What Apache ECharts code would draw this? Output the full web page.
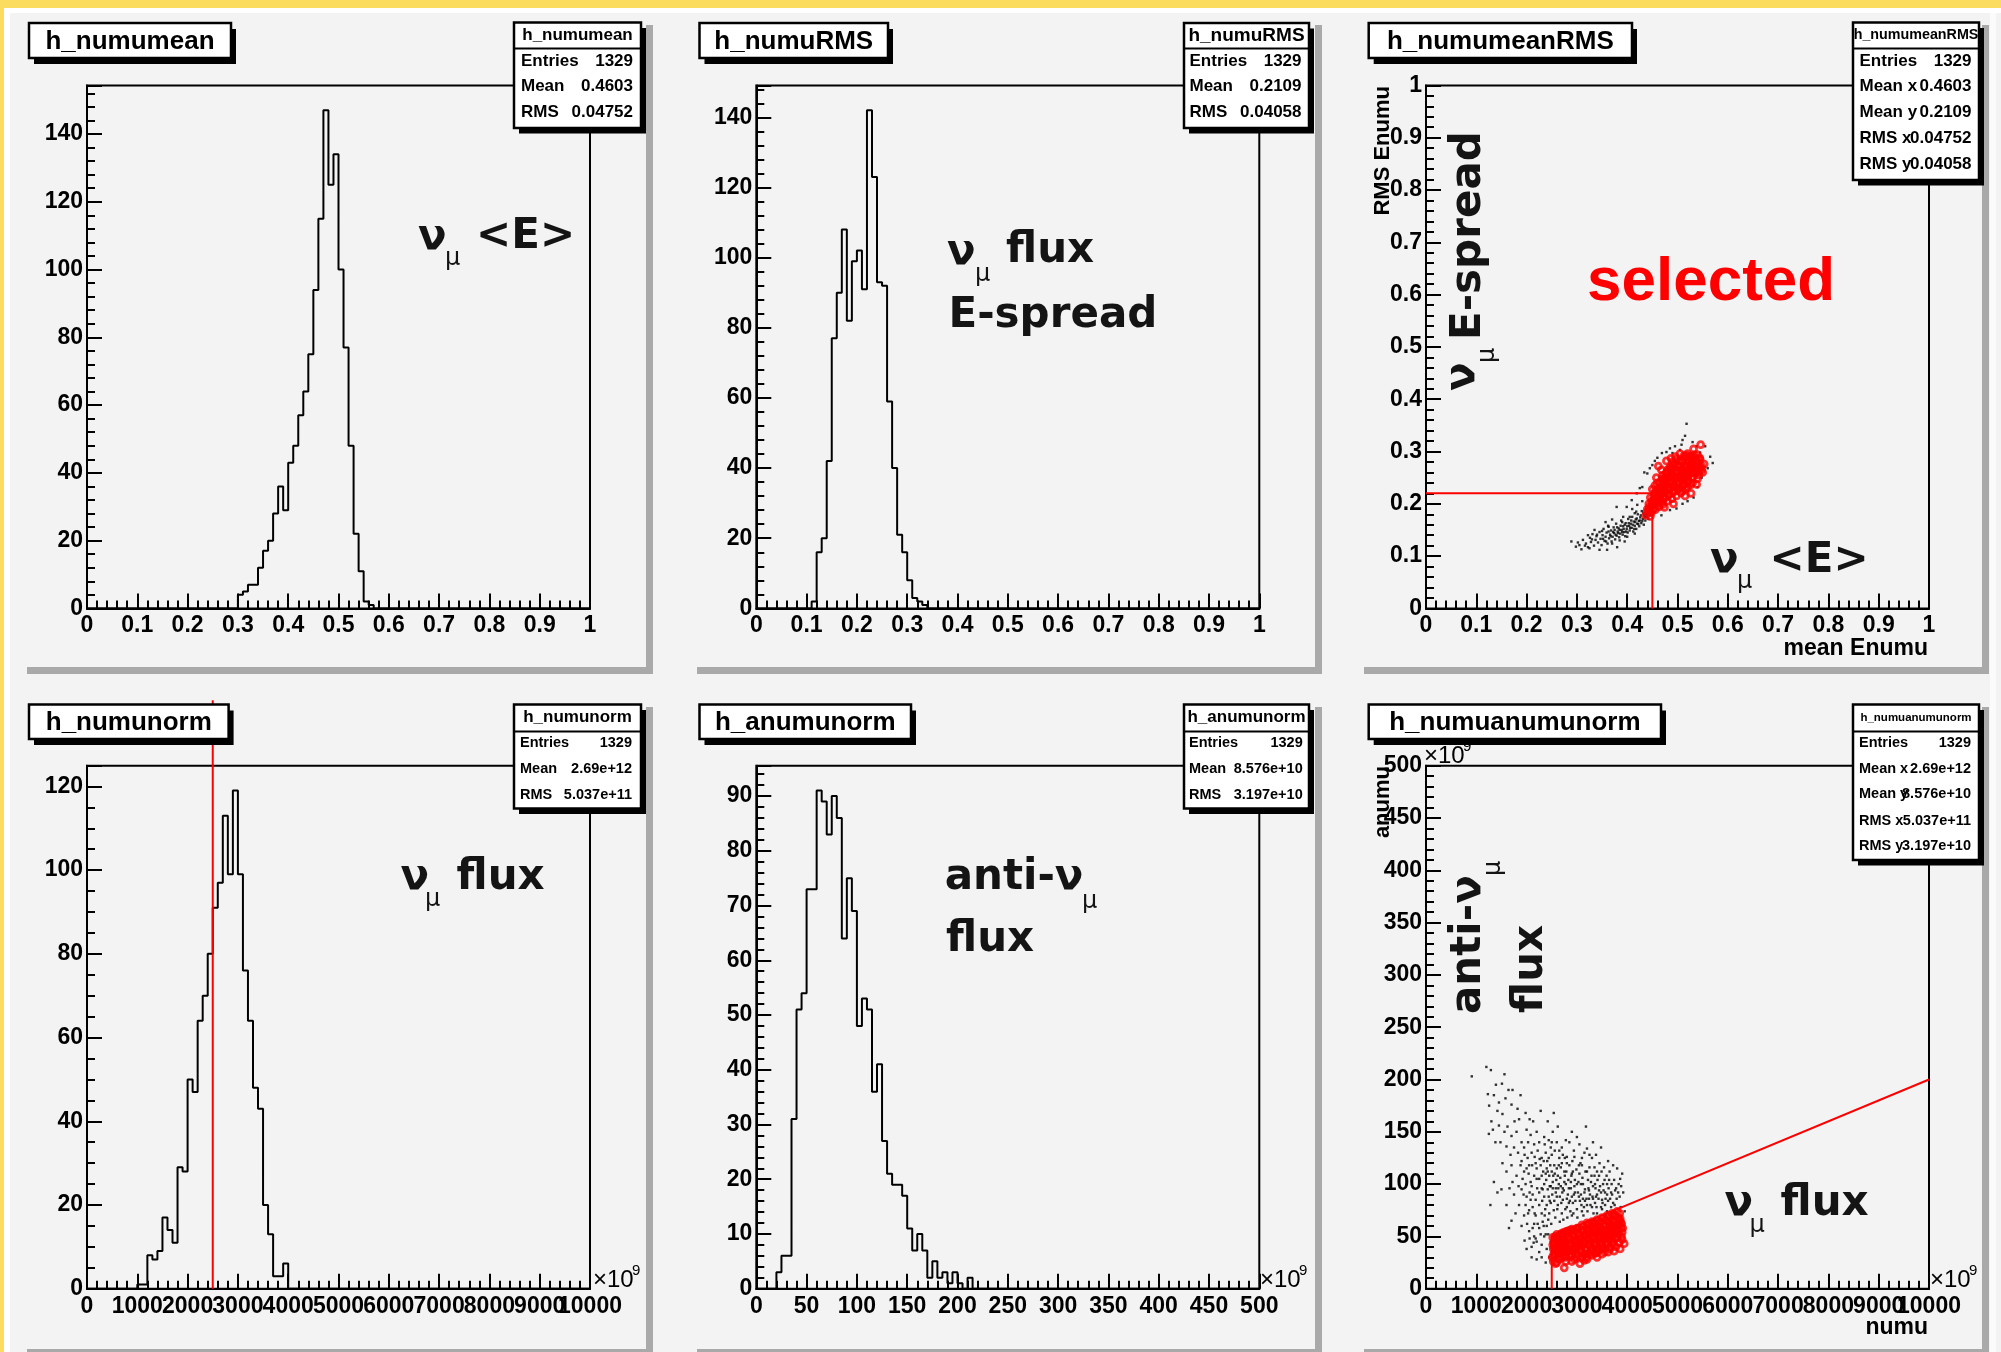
<!DOCTYPE html>
<html><head><meta charset="utf-8">
<script src="https://cdn.jsdelivr.net/npm/echarts@6/dist/echarts.min.js"></script>
<style>html,body{margin:0;padding:0;background:#f3f3f3;overflow:hidden}#c{width:2001px;height:1352px}</style>
</head><body><div id="c"></div>
<script>
// ================= DATA =================
// h_numumean : 100 bins on [0,1]
const numumeanStart = 30;
const numumeanCounts = [4,5,7,7,12,17,20,28,36,29,43,48,57,64,75,94,115,147,125,134,100,77,48,22,11,2,1];
// h_numuRMS : 100 bins on [0,1]
const numuRMSStart = 11;
const numuRMSCounts = [2,16,20,42,77,90,108,82,99,102,91,142,123,93,92,59,40,21,16,8,3,2,1];
// h_numunorm : 100 bins on [0,10000] (x1e9)
const numunormStart = 10;
const numunormCounts = [1,1,8,7,9,17,14,11,29,28,50,47,64,70,80,91,97,113,99,119,99,76,64,48,43,20,13,3,3,6];
// h_anumunorm : 100 bins on [0,500] (x1e9)
const anumunormStart = 4;
const anumunormCounts = [3,6,6,31,51,54,73,73,91,89,83,90,86,64,75,69,48,53,51,36,41,27,21,19,19,17,11,7,10,7,2,5,2,3,1,3,1,0,2];

// axis ranges [min, max, major interval]
const xRange1 = [0, 1, 0.1], yRange1 = [0, 154.35, 20];
const xRange2 = [0, 1, 0.1], yRange2 = [0, 149.1, 20];
const xRange3 = [0, 1, 0.1], yRange3 = [0, 1, 0.1];
const xRange4 = [0, 10000, 1000], yRange4 = [0, 124.95, 20];
const xRange5 = [0, 500, 50], yRange5 = [0, 95.55, 10];
const xRange6 = [0, 10000, 1000], yRange6 = [0, 500, 50];

// cut lines
const cutMeanRMS = [[0,0.22],[0.45,0.22],[0.45,0]];
const cutNumu = [[2500,0],[2500,140.6]];
const cutNumuAnumu = [[2500,0],[2500,50],[10000,200]];

// scatter: mean Enumu vs RMS Enumu
const meanRMSAll = [[0.289,0.128],[0.298,0.118],[0.305,0.121],[0.309,0.113],[0.312,0.131],[0.318,0.124],[0.322,0.117],[0.326,0.135],[0.328,0.127],[0.331,0.142],[0.334,0.12],[0.337,0.131],[0.339,0.138],[0.342,0.126],[0.345,0.146],[0.347,0.133],[0.349,0.121],[0.351,0.14],[0.353,0.152],[0.355,0.129],[0.357,0.137],[0.359,0.145],[0.361,0.124],[0.362,0.158],[0.364,0.134],[0.366,0.141],[0.368,0.149],[0.369,0.128],[0.371,0.137],[0.373,0.155],[0.374,0.144],[0.376,0.132],[0.378,0.162],[0.379,0.139],[0.381,0.147],[0.383,0.153],[0.384,0.136],[0.386,0.143],[0.388,0.168],[0.389,0.15],[0.391,0.141],[0.392,0.157],[0.394,0.146],[0.396,0.138],[0.397,0.163],[0.399,0.152],[0.401,0.145],[0.402,0.171],[0.404,0.158],[0.405,0.149],[0.407,0.162],[0.409,0.154],[0.41,0.175],[0.412,0.147],[0.413,0.166],[0.415,0.158],[0.417,0.17],[0.418,0.152],[0.42,0.162],[0.421,0.18],[0.423,0.167],[0.424,0.157],[0.426,0.174],[0.428,0.163],[0.429,0.186],[0.431,0.171],[0.433,0.16],[0.434,0.178],[0.436,0.168],[0.437,0.19],[0.439,0.175],[0.441,0.182],[0.442,0.171],[0.444,0.188],[0.446,0.178],[0.447,0.196],[0.449,0.184],[0.38,0.117],[0.395,0.128],[0.36,0.112],[0.345,0.112],[0.37,0.17],[0.41,0.19],[0.42,0.198],[0.43,0.205],[0.379,0.194],[0.399,0.194],[0.409,0.207],[0.419,0.22],[0.425,0.23],[0.434,0.26],[0.43,0.232],[0.44,0.258],[0.445,0.268],[0.45,0.274],[0.455,0.282],[0.46,0.288],[0.469,0.297],[0.478,0.299],[0.485,0.306],[0.49,0.297],[0.495,0.31],[0.508,0.313],[0.505,0.303],[0.51,0.322],[0.515,0.33],[0.518,0.353],[0.53,0.318],[0.538,0.31],[0.545,0.298],[0.555,0.31],[0.565,0.29],[0.57,0.278],[0.56,0.268],[0.548,0.25],[0.54,0.232],[0.532,0.212],[0.52,0.205],[0.51,0.2],[0.498,0.191],[0.485,0.188],[0.468,0.178],[0.455,0.185],[0.357,0.165],[0.335,0.15],[0.322,0.14],[0.392,0.175],[0.415,0.182],
  [0.352,0.133],[0.358,0.128],[0.363,0.147],[0.367,0.138],[0.372,0.146],[0.375,0.15],[0.377,0.141],[0.38,0.155],[0.382,0.144],[0.385,0.15],[0.387,0.158],[0.39,0.146],[0.393,0.152],[0.395,0.16],[0.398,0.147],[0.4,0.157],[0.403,0.163],[0.406,0.154],[0.408,0.168],[0.411,0.16],[0.414,0.152],[0.416,0.165],[0.419,0.172],[0.422,0.161],[0.425,0.168],[0.427,0.178],[0.43,0.167],[0.432,0.182],[0.435,0.174],[0.438,0.18],[0.44,0.176],[0.443,0.183],[0.37,0.124],[0.385,0.13],[0.4,0.137],[0.415,0.143],[0.34,0.141],[0.33,0.132],[0.316,0.12],[0.302,0.126],[0.325,0.115],[0.39,0.165],[0.405,0.175],[0.418,0.185],[0.363,0.156],[0.35,0.148]];
const meanRMSSelected = [[0.437,0.178],[0.44,0.19],[0.443,0.2],[0.446,0.212],[0.448,0.183],[0.45,0.196],[0.452,0.207],[0.454,0.22],[0.456,0.189],[0.458,0.201],[0.46,0.213],[0.462,0.226],[0.463,0.194],[0.465,0.24],[0.466,0.206],[0.468,0.219],[0.47,0.232],[0.471,0.199],[0.473,0.211],[0.474,0.246],[0.476,0.224],[0.477,0.258],[0.479,0.237],[0.48,0.205],[0.482,0.216],[0.483,0.25],[0.485,0.229],[0.486,0.268],[0.488,0.242],[0.489,0.21],[0.491,0.222],[0.492,0.255],[0.494,0.234],[0.495,0.275],[0.497,0.247],[0.498,0.215],[0.5,0.228],[0.501,0.26],[0.503,0.24],[0.504,0.282],[0.506,0.252],[0.507,0.221],[0.509,0.234],[0.51,0.266],[0.512,0.245],[0.513,0.287],[0.515,0.258],[0.516,0.228],[0.518,0.272],[0.52,0.241],[0.521,0.252],[0.523,0.29],[0.524,0.263],[0.526,0.236],[0.528,0.277],[0.529,0.25],[0.531,0.268],[0.533,0.293],[0.535,0.258],[0.537,0.282],[0.538,0.237],[0.54,0.27],[0.542,0.255],[0.544,0.288],[0.546,0.313],[0.548,0.272],[0.553,0.276],[0.55,0.26],[0.478,0.282],[0.468,0.265],[0.458,0.25],[0.455,0.235],[0.492,0.2],[0.474,0.193],[0.446,0.176],[0.52,0.296],[0.505,0.296],[0.532,0.305],[0.462,0.272],[0.45,0.228],[0.527,0.22],[0.515,0.215],[0.496,0.29],[0.487,0.287],
  [0.44,0.184],[0.444,0.194],[0.449,0.205],[0.453,0.215],[0.457,0.226],[0.461,0.204],[0.464,0.217],[0.467,0.228],[0.469,0.247],[0.472,0.222],[0.475,0.235],[0.478,0.248],[0.481,0.228],[0.484,0.242],[0.487,0.255],[0.49,0.234],[0.493,0.247],[0.496,0.26],[0.499,0.24],[0.502,0.252],[0.505,0.265],[0.508,0.246],[0.511,0.258],[0.514,0.271],[0.517,0.251],[0.519,0.263],[0.522,0.276],[0.525,0.257],[0.527,0.268],[0.53,0.281],[0.534,0.272],[0.537,0.262],[0.541,0.282],[0.545,0.27],[0.476,0.212],[0.484,0.218],[0.495,0.224],[0.505,0.23],[0.513,0.237],[0.522,0.244],[0.53,0.25],[0.51,0.282],[0.5,0.273],[0.49,0.27],[0.48,0.265],[0.47,0.254],[0.46,0.24],[0.452,0.19],[0.459,0.196],[0.47,0.205],[0.518,0.292],[0.528,0.29],[0.539,0.294],
  [0.445,0.188],[0.45,0.2],[0.455,0.21],[0.46,0.22],[0.465,0.23],[0.47,0.24],[0.475,0.25],[0.48,0.26],[0.485,0.27],[0.49,0.28],[0.458,0.205],[0.463,0.215],[0.468,0.225],[0.473,0.235],[0.478,0.245],[0.483,0.255],[0.488,0.265],[0.493,0.275],[0.498,0.285],[0.478,0.222],[0.483,0.232],[0.488,0.242],[0.493,0.252],[0.498,0.262],[0.503,0.272],[0.508,0.282],[0.513,0.292],[0.497,0.232],[0.502,0.242],[0.507,0.252],[0.512,0.262],[0.517,0.272],[0.522,0.282],[0.515,0.248],[0.52,0.258],[0.525,0.268],[0.53,0.278],[0.535,0.288],[0.53,0.26],[0.535,0.27],[0.54,0.278],[0.545,0.285],[0.543,0.262],[0.548,0.265],[0.51,0.225],[0.52,0.232],[0.53,0.24],[0.54,0.248]];

// scatter: numu vs anumu (x1e9)
const numuAnumuAll = [[910,203],[1200,212],[1290,209],[1390,195],[1510,196],[1230,186],[1350,185],[1255,175],[1580,182],[1640,190],[1700,176],[1820,172],[1760,160],[1520,167],[1420,170],[1300,160],[1250,148],[1330,152],[1450,156],[1560,150],[1620,155],[1700,146],[1800,150],[1850,162],[1900,140],[1380,140],[1480,140],[1600,136],[1680,128],[1750,135],[1830,130],[1950,135],[2000,152],[2080,147],[2150,138],[1520,120],[1600,112],[1700,118],[1420,92],[1500,95],[1350,102],[1800,108],[1880,118],[1950,112],[2020,125],[2100,130],[2180,120],[2250,140],[2350,145],[1280,80],[1600,80],[1750,90],[1900,95],[2300,125],[2400,115],[2500,128],[2600,140],[2700,120],[3000,145],[3180,155],[3800,115],[3900,110],[3600,100],[3400,112],[3300,125],[3100,118],[2900,110],[2800,126],[2200,105],[2100,98],[2000,88],[2050,75],[1950,70],[1900,60],[2150,62],[2250,58],[2300,72],[2350,88],[2420,95],[2480,82],[2520,102],[2580,92],[2620,108],[2680,98],[2720,85],[2780,100],[2820,90],[2880,96],[2920,82],[2960,104],[3020,92],[3080,100],[3120,86],[3160,95],[3220,104],[3260,90],[3320,98],[3380,88],[3440,94],[3500,85],[3560,92],[3620,84],[3700,90],[3750,80],[3850,88],[2450,72],[2400,60],[2350,50],[2300,42],[2250,35],[2200,45],[2150,50],[2100,40],[2400,38],[2450,30],[2380,25],[2200,28],[2050,55],[2600,115],[2650,125],[2750,112],[2850,118],[2950,126],[3050,110],[3150,130],[3250,116],[3350,108],[3450,120],[3550,104],[2550,118],[2500,112],[2450,108],[2350,100],[2300,108],[2250,92],[2180,85],[2120,78],[2250,80],[2320,64],[2540,75],[2620,80],[2700,72],[2800,78],[2900,70],[3000,76],[3100,74],[3200,80],[3300,78],[3400,72],[3500,76],[3600,74],[3700,72],[2700,135],[2850,140],[3050,138],[2480,135],[2380,130],[2580,96],[2660,88],[2740,94],[2860,84],[2940,90],[3060,84],[3140,78],[3240,86],[3360,82],[3480,78],[3580,70],[3680,78],[2200,115],[2150,108],[2080,102],[2040,110],[1980,100],[1840,98],[1720,102],[1660,96],
  [2010,62],[2060,92],[2110,118],[2160,72],[2210,96],[2260,124],[2310,84],[2330,112],[2370,76],[2390,104],[2410,122],[2430,66],[2440,88],[2460,98],[2470,118],[2490,62],[2510,90],[2530,108],[2550,84],[2560,132],[2570,68],[2590,104],[2610,76],[2630,96],[2640,118],[2660,64],[2670,106],[2690,82],[2710,92],[2720,128],[2730,66],[2750,102],[2770,76],[2790,112],[2800,86],[2810,68],[2830,104],[2840,96],[2870,74],[2890,108],[2900,88],[2910,122],[2930,72],[2950,98],[2970,84],[2990,114],[3010,68],[3030,102],[3040,88],[3070,120],[3090,80],[3110,106],[3130,70],[3150,92],[3170,112],[3190,86],[3210,74],[3230,96],[3250,128],[3270,80],[3290,108],[3310,88],[3330,72],[3350,116],[3370,96],[3390,78],[3410,104],[3430,86],[3460,98],[3490,112],[3510,82],[3530,94],[3570,86],[3590,108],[3630,96],[3660,86],[3690,100],[3720,82],[3760,94],[3790,86],[3830,100],[3870,78],[3920,92],[3950,74],[2360,138],[2440,142],[2520,150],[2620,155],[2780,142],[2900,150],[3320,140],[3480,135],[3620,122],[1850,80],[1780,72],[1700,65],[1650,58],[1900,122],[1960,128],[2030,140],[2130,160],[1980,168],[1880,185],[1560,205],[1450,178],[1720,190],[2280,170],[2420,160],[2540,168],[2200,150],[2060,162],[2340,60],[2380,52],[2180,70],[2120,58],[2250,105],[2050,118],[2480,45],[2430,52],[1960,46],[2000,38],[2100,30],[2300,30],
  [2420,112],[2460,84],[2520,96],[2560,110],[2600,88],[2640,100],[2680,116],[2720,96],[2760,108],[2800,120],[2840,82],[2880,102],[2920,112],[2960,92],[3000,100],[3040,118],[3080,90],[3120,100],[3160,84],[3200,112],[3240,94],[3280,102],[3320,86],[3360,100],[3400,90],[3440,108],[3480,92],[3520,100],[3560,80],[3600,90],[3640,104],[3680,92],[3740,104],[3780,96],[3820,92],[3880,98],[2300,96],[2280,118],[2220,132],[2160,126],[2120,90],[2080,85],[2030,72],[1980,80],[1940,90],[1920,105],[2000,115],[2400,80],[2360,70],[2320,95],[2280,52],[2220,62],[2180,48],[2140,44],[2060,48],[2480,98],[2440,125],[2380,110],[2340,122],[2500,140],[2650,132],[2760,125],[2940,132],[3100,125],[3200,134],[3380,128],[3540,116],[3650,112],[3720,118],[3860,105]];
const numuAnumuSelected = [[2520,49],[2540,44],[2530,38],[2560,32],[2580,47],[2600,40],[2620,35],[2640,50],[2660,44],[2680,38],[2700,30],[2720,52],[2740,46],[2760,41],[2780,35],[2800,55],[2820,49],[2840,43],[2860,37],[2880,31],[2900,57],[2920,51],[2940,45],[2960,40],[2980,34],[3000,58],[3020,53],[3040,47],[3060,41],[3080,36],[3100,61],[3120,55],[3140,50],[3160,44],[3180,38],[3200,63],[3220,57],[3240,52],[3260,46],[3280,40],[3300,64],[3320,59],[3340,53],[3360,48],[3380,42],[3400,66],[3420,60],[3440,55],[3460,49],[3480,44],[3500,68],[3520,62],[3540,56],[3560,51],[3580,45],[3600,70],[3620,64],[3640,58],[3660,52],[3680,46],[3700,72],[3720,66],[3740,60],[3760,54],[3780,48],[3800,74],[3820,68],[3840,62],[3860,67],[3880,58],[3900,54],[3887,50],[3940,43],[3656,40],[3358,34],[3225,34],[3146,27],[3060,24],[2781,26],[2748,20],[2576,24],[2530,26],[3500,38],[3420,36],[3300,32],[3100,30],[2950,28],[2650,28],[3600,42],[3720,44],[3760,70],[3680,60],[2600,52],[2700,53],
  [2510,30],[2550,40],[2570,50],[2590,36],[2610,46],[2630,30],[2650,40],[2670,52],[2690,34],[2710,44],[2730,38],[2750,54],[2770,30],[2790,46],[2810,40],[2830,55],[2850,32],[2870,48],[2890,42],[2910,36],[2930,56],[2950,50],[2970,46],[2990,30],[3010,40],[3030,58],[3050,50],[3070,44],[3090,56],[3110,35],[3130,45],[3150,58],[3170,52],[3190,30],[3210,48],[3230,42],[3250,60],[3270,54],[3290,36],[3310,50],[3330,44],[3350,62],[3370,56],[3390,38],[3410,52],[3430,46],[3450,64],[3470,58],[3490,40],[3510,54],[3530,48],[3550,66],[3570,60],[3590,50],[3610,56],[3630,48],[3650,68],[3670,62],[3690,54],[3710,58],[3730,50],[3750,70],[3770,64],[3790,56],[3810,60],[3830,52],[3850,72],[3870,64],[3890,62],[3910,58],[3200,28],[3400,30],[3550,35],[2900,26],[2600,25],
  [2540,33],[2660,33],[2780,32],[2900,33],[3020,32],[3140,33],[3260,33],[3380,34],[3500,33],[3620,35],[3740,36],[3860,38],
  [2520,42],[2640,42],[2760,43],[2880,42],[3000,43],[3120,42],[3240,43],[3360,42],[3480,42],[3600,43],[3720,42],[3840,44],
  [2600,48],[2720,48],[2840,48],[2960,48],[3080,48],[3200,48],[3320,48],[3440,48],[3560,48],[3680,49],[3800,49],[3900,47],
  [2860,56],[2980,56],[3100,56],[3220,56],[3340,56],[3460,56],[3580,56],[3700,56],[3820,57],
  [3240,62],[3360,63],[3480,64],[3600,65],[3720,64],[3840,65],
  [2580,37],[2700,37],[2820,37],[2940,37],[3060,37],[3180,37],[3300,37],[3420,38],[3540,38],[3660,38],[3780,40]];

// titles and statistics
const titles = ['h_numumean','h_numuRMS','h_numumeanRMS','h_numunorm','h_anumunorm','h_numuanumunorm'];
const stats1 = [['Entries','1329'],['Mean','0.4603'],['RMS','0.04752']];
const stats2 = [['Entries','1329'],['Mean','0.2109'],['RMS','0.04058']];
const stats3 = [['Entries','1329'],['Mean x','0.4603'],['Mean y','0.2109'],['RMS x','0.04752'],['RMS y','0.04058']];
const stats4 = [['Entries','1329'],['Mean','2.69e+12'],['RMS','5.037e+11']];
const stats5 = [['Entries','1329'],['Mean','8.576e+10'],['RMS','3.197e+10']];
const stats6 = [['Entries','1329'],['Mean x','2.69e+12'],['Mean y','8.576e+10'],['RMS x','5.037e+11'],['RMS y','3.197e+10']];

// ================= BUILD =================
function histLine(start, counts, nbins, xmin, xmax) {
  const w = (xmax - xmin) / nbins;
  const full = new Array(nbins).fill(0);
  counts.forEach((c, i) => { full[start + i] = c; });
  const pts = full.map((c, i) => [xmin + i * w, c]);
  pts.push([xmax, full[nbins - 1]]);
  return pts;
}

const grids = [
  {left: 87, top: 85.4}, {left: 756.3, top: 85.4}, {left: 1426, top: 85.4},
  {left: 87, top: 765.7}, {left: 756.3, top: 765.7}, {left: 1426, top: 765.7}
].map(g => Object.assign(g, {width: 503, height: 523, show: true, borderColor: '#000', borderWidth: 2,
  backgroundColor: 'transparent', containLabel: false, outerBoundsMode: 'none'}));

const LBL = {color: '#000', fontFamily: 'Liberation Sans', fontWeight: 'bold', fontSize: 23};
const plain = v => String(v);
function axis(gi, r, minorSplit, isY, showMax, fmt) {
  return {
    type: 'value', gridIndex: gi, min: r[0], max: r[1], interval: r[2],
    axisLine: {show: true, onZero: false, lineStyle: {color: '#000', width: 2}},
    axisTick: {show: true, inside: true, length: 15, lineStyle: {color: '#000', width: 2}},
    minorTick: {show: true, splitNumber: minorSplit, length: 8, lineStyle: {color: '#000', width: 2}},
    splitLine: {show: false}, minorSplitLine: {show: false},
    axisLabel: Object.assign({margin: isY ? 4 : 6, showMaxLabel: showMax, showMinLabel: true, hideOverlap: false,
      formatter: fmt || plain}, LBL)
  };
}
// the last label of the 0..10000 axes is drawn by a companion axis so that the crowded labels all show
const noLast = v => (v === 10000 ? '' : String(v));
const onlyLast = v => (v === 10000 ? '10000' : '');
function companion(gi, r) {
  return {type: 'value', gridIndex: gi, position: 'bottom', offset: 0, min: r[0], max: r[1], interval: r[2],
    axisLine: {show: false}, axisTick: {show: false}, minorTick: {show: false}, splitLine: {show: false},
    axisLabel: Object.assign({margin: 6, showMaxLabel: true, showMinLabel: true, formatter: onlyLast}, LBL)};
}
const xAxes = [axis(0,xRange1,5,false,true), axis(1,xRange2,5,false,true), axis(2,xRange3,5,false,true),
               axis(3,xRange4,5,false,true,noLast), axis(4,xRange5,5,false,true), axis(5,xRange6,5,false,true,noLast),
               companion(3,xRange4), companion(5,xRange6)];
const yAxes = [axis(0,yRange1,5,true,false), axis(1,yRange2,5,true,false), axis(2,yRange3,5,true,true),
               axis(3,yRange4,4,true,false), axis(4,yRange5,5,true,false), axis(5,yRange6,5,true,true)];

const histStyle = {type: 'line', step: 'end', showSymbol: false, symbol: 'none', silent: true, z: 3,
  lineStyle: {color: '#000', width: 2}};
const redLine = {type: 'line', showSymbol: false, symbol: 'none', silent: true, clip: false, z: 3,
  lineStyle: {color: '#ff0000', width: 2}};
const dots = {type: 'scatter', symbol: 'rect', symbolSize: 2.4, silent: true, z: 2, itemStyle: {color: '#000'}};
const rings = {type: 'scatter', symbol: 'circle', symbolSize: 6, silent: true, z: 4,
  itemStyle: {color: 'rgba(0,0,0,0)', borderColor: '#ff0000', borderWidth: 2.8}};

const series = [
  Object.assign({}, histStyle, {xAxisIndex: 0, yAxisIndex: 0, data: histLine(numumeanStart, numumeanCounts, 100, 0, 1)}),
  Object.assign({}, histStyle, {xAxisIndex: 1, yAxisIndex: 1, data: histLine(numuRMSStart, numuRMSCounts, 100, 0, 1)}),
  Object.assign({}, redLine, {xAxisIndex: 2, yAxisIndex: 2, data: cutMeanRMS}),
  Object.assign({}, dots, {xAxisIndex: 2, yAxisIndex: 2, data: meanRMSAll}),
  Object.assign({}, rings, {xAxisIndex: 2, yAxisIndex: 2, data: meanRMSSelected}),
  Object.assign({}, histStyle, {xAxisIndex: 3, yAxisIndex: 3, data: histLine(numunormStart, numunormCounts, 100, 0, 10000)}),
  Object.assign({}, redLine, {xAxisIndex: 3, yAxisIndex: 3, data: cutNumu, z: 4}),
  Object.assign({}, histStyle, {xAxisIndex: 4, yAxisIndex: 4, data: histLine(anumunormStart, anumunormCounts, 100, 0, 500)}),
  Object.assign({}, redLine, {xAxisIndex: 5, yAxisIndex: 5, data: cutNumuAnumu}),
  Object.assign({}, dots, {xAxisIndex: 5, yAxisIndex: 5, data: numuAnumuAll}),
  Object.assign({}, rings, {xAxisIndex: 5, yAxisIndex: 5, data: numuAnumuSelected})
];

// ---------- decorations (pads, boxes, annotations) ----------
const G = [];
const rect = (x, y, w, h, fill, z, stroke, lw) => G.push({type: 'rect', z: z || 0, silent: true,
  shape: {x, y, width: w, height: h}, style: {fill, stroke: stroke || null, lineWidth: lw || 0}});
const text = (t, x, y, font, opts) => G.push(Object.assign({type: 'text', x, y, z: 20, silent: true,
  style: Object.assign({text: t, font, fill: '#000', align: 'left', verticalAlign: 'middle'}, (opts && opts.style) || {})},
  opts && opts.rotation ? {rotation: opts.rotation} : {}, opts && opts.z ? {z: opts.z} : {}));

// canvas frame
rect(0, 0, 2001, 8, '#fcdc5e', 0);
rect(0, 0, 4, 1352, '#fcdc5e', 0);
rect(4, 8, 1997, 5, '#ffffff', 0);
rect(4, 8, 6, 1344, '#ffffff', 0);
rect(1990, 13, 6, 1339, '#fbfbfb', 0);

// pad shadows
const colL = [20, 690, 1357], colR = [653, 1322, 1989], rowT = [18, 700], rowB = [674, 1356];
for (let r = 0; r < 2; r++) for (let c = 0; c < 3; c++) {
  rect(colR[c] - 7, rowT[r] + 7, 7, rowB[r] - rowT[r] - 7, '#a9a9a9', 0);
  rect(colL[c] + 7, rowB[r] - 7, colR[c] - colL[c] - 7, 7, '#a9a9a9', 0);
}

// title boxes
const tBoxes = [[29,23,231,58],[699.5,23,888,58],[1368.7,23,1632,58],[29,704.5,228.6,739],[699.5,704.5,911,739],[1368.7,704.5,1661,739]];
tBoxes.forEach((b, i) => {
  rect(b[0] + 5, b[1] + 6, b[2] - b[0], b[3] - b[1], '#000', 10);
  rect(b[0], b[1], b[2] - b[0], b[3] - b[1], '#ffffff', 11, '#000', 2.5);
  text(titles[i], (b[0] + b[2]) / 2, (b[1] + b[3]) / 2 + 1, 'bold 26px "Liberation Sans"', {z: 12, style: {align: 'center'}});
});

// stat boxes
const sBoxes = [
  {b: [514,22.5,641,128], sep: 48.6, hy: 35.5, hs: 17, rs: 17, rows: [61.6,86.7,112], lx: 521, vx: 633, st: stats1, h: 'h_numumean'},
  {b: [1184,23,1309,128], sep: 48.6, hy: 35.5, hs: 19, rs: 17, rows: [61.6,86.7,112.3], lx: 1189.5, vx: 1301.5, st: stats2, h: 'h_numuRMS'},
  {b: [1853,22.5,1979,180], sep: 48.6, hy: 35.5, hs: 14.3, rs: 17, rows: [61.6,86.7,112.7,138.8,164.8], lx: 1859.5, vx: 1971.5, st: stats3, h: 'h_numumeanRMS'},
  {b: [514,704.5,641,808.6], sep: 731.4, hy: 717.5, hs: 17, rs: 14.5, rows: [743.4,769,794.9], lx: 520, vx: 632, st: stats4, h: 'h_numunorm'},
  {b: [1184,704.5,1309,808.6], sep: 731.4, hy: 717.5, hs: 17, rs: 14.5, rows: [743.4,769,794.9], lx: 1189, vx: 1302.7, st: stats5, h: 'h_anumunorm'},
  {b: [1853,704.5,1979,860], sep: 731.4, hy: 717.5, hs: 11.5, rs: 14.5, rows: [743.4,769,793.6,820.6,846.3], lx: 1859, vx: 1971, st: stats6, h: 'h_numuanumunorm'}
];
sBoxes.forEach(s => {
  const b = s.b;
  rect(b[0] + 5, b[1] + 5.5, b[2] - b[0], b[3] - b[1], '#000', 10);
  rect(b[0], b[1], b[2] - b[0], b[3] - b[1], '#ffffff', 11, '#000', 2.5);
  G.push({type: 'line', z: 12, silent: true, shape: {x1: b[0], y1: s.sep, x2: b[2], y2: s.sep}, style: {stroke: '#000', lineWidth: 2}});
  text(s.h, (b[0] + b[2]) / 2, s.hy, 'bold ' + s.hs + 'px "Liberation Sans"', {z: 12, style: {align: 'center'}});
  s.st.forEach((row, k) => {
    text(row[0], s.lx, s.rows[k], 'bold ' + s.rs + 'px "Liberation Sans"', {z: 12});
    text(row[1], s.vx, s.rows[k], 'bold ' + s.rs + 'px "Liberation Sans"', {z: 12, style: {align: 'right'}});
  });
});

// multipliers
const mul = (x, y) => { text('\u00d710', x, y, '24px "Liberation Sans"', {z: 5}); text('9', x + 39, y - 10, '15px "Liberation Sans"', {z: 5}); };
mul(593, 1280.7); mul(1260, 1280.7); mul(1930, 1280.7); mul(1424, 756.5);

// axis titles
text('mean Enumu', 1928, 649, 'bold 23px "Liberation Sans"', {style: {align: 'right'}});
text('numu', 1928, 1328, 'bold 23px "Liberation Sans"', {style: {align: 'right'}});
text('RMS Enumu', 1383, 86, 'bold 22px "Liberation Sans"', {rotation: Math.PI / 2, style: {align: 'right'}});
text('anumu', 1383, 766, 'bold 22px "Liberation Sans"', {rotation: Math.PI / 2, style: {align: 'right'}});

// annotations
const BIG = 'bold 42px "DejaVu Sans"', SUB = '24px "DejaVu Sans"', INK = {fill: '#141414'};
const ann = (t, x, y, f, rot) => text(t, x, y, f, {style: INK, rotation: rot});
// panel 1
ann('\u03bd', 418, 237.6, BIG); ann('\u03bc', 445, 259, SUB); ann('<E>', 476, 237, BIG);
// panel 2
ann('\u03bd', 947, 252.8, BIG); ann('\u03bc', 975, 274.5, SUB); ann('flux', 1006, 251.5, BIG); ann('E-spread', 948.5, 315.7, BIG);
// panel 3
text('selected', 1587, 283, 'bold 62px "Liberation Sans"', {style: {fill: '#ff0000'}});
ann('E-spread', 1469, 340, BIG, Math.PI / 2); ann('\u03bd', 1462.6, 391, BIG, Math.PI / 2); ann('\u03bc', 1488, 363, SUB, Math.PI / 2);
ann('\u03bd', 1710, 560.7, BIG); ann('\u03bc', 1737, 582, SUB); ann('<E>', 1769.5, 560.7, BIG);
// panel 4
ann('\u03bd', 400.5, 878, BIG); ann('\u03bc', 425, 899.5, SUB); ann('flux', 456.5, 878, BIG);
// panel 5
ann('anti-\u03bd', 944.7, 878, BIG); ann('\u03bc', 1082, 902, SUB); ann('flux', 946, 940.4, BIG);
// panel 6
ann('anti-\u03bd', 1469, 1014, BIG, Math.PI / 2); ann('\u03bc', 1494, 876, SUB, Math.PI / 2); ann('flux', 1531, 1013, BIG, Math.PI / 2);
ann('\u03bd', 1724.5, 1204, BIG); ann('\u03bc', 1749.6, 1225.5, SUB); ann('flux', 1780.5, 1204, BIG);

const chart = echarts.init(document.getElementById('c'), null, {renderer: 'canvas'});
chart.setOption({
  animation: false,
  backgroundColor: '#f3f3f3',
  grid: grids, xAxis: xAxes, yAxis: yAxes, series: series,
  graphic: {elements: G}
});
</script></body></html>
